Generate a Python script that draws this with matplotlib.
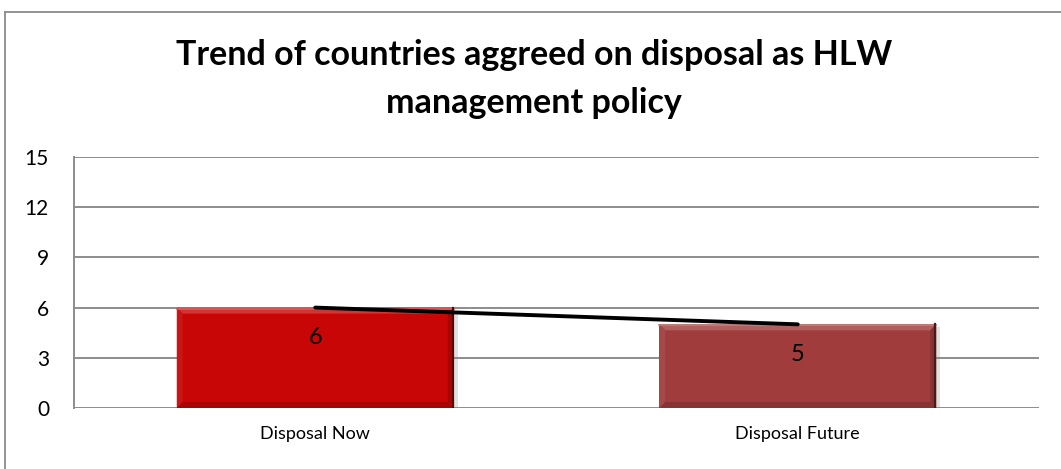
import matplotlib
matplotlib.use("Agg")
import matplotlib.pyplot as plt
from matplotlib.patches import Polygon
from matplotlib.lines import Line2D
import numpy as np

categories = ["Disposal Now", "Disposal Future"]
values = [6, 5]
bar_colors = ["#C80606", "#A03C3C"]
yticks = [0, 3, 6, 9, 12, 15]
title = "Trend of countries aggreed on disposal as HLW\nmanagement policy"

plt.rcParams['font.family'] = ['Lato', 'DejaVu Sans']

W, H = 1061, 469
fig = plt.figure(figsize=(W / 100, H / 100), dpi=100)
fig.patch.set_facecolor("white")

# outer chart border (left and top visible)
fig.add_artist(Line2D([5 / W, 5 / W], [0, 1 - 12 / H], transform=fig.transFigure,
                      color="#8a8a8a", lw=1.3))
fig.add_artist(Line2D([5 / W, 1], [1 - 12 / H, 1 - 12 / H], transform=fig.transFigure,
                      color="#8a8a8a", lw=1.3))

ax = fig.add_axes([74 / W, 1 - 408 / H, (1039 - 74) / W, (408 - 157) / H])
x = np.arange(len(categories))
bw = 0.574
bars = ax.bar(x, values, width=bw, color=bar_colors, zorder=2, linewidth=0)

ax.set_xlim(-0.5, len(categories) - 0.5)
ax.set_ylim(0, 15)
ax.set_yticks(yticks)
ax.set_xticks(x)
ax.set_xticklabels(categories)
ax.tick_params(axis='y', length=0, labelsize=15, colors="black", pad=18)
ax.tick_params(axis='x', length=0, labelsize=13, colors="black", pad=13)
ax.grid(axis='y', color="#8c8c8c", lw=1.4, zorder=0)
for s in ["top", "right", "bottom"]:
    ax.spines[s].set_visible(False)
ax.spines["left"].set_color("#8c8c8c")
ax.spines["left"].set_linewidth(1.4)

# subtle bevel effect on bars
px_x = (ax.get_xlim()[1] - ax.get_xlim()[0]) / (1039 - 74)
px_y = 15 / (408 - 157)
b = 6
for bar, col in zip(bars, bar_colors):
    x0, y0 = bar.get_x(), bar.get_y()
    x1, y1 = x0 + bar.get_width(), y0 + bar.get_height()
    dx, dy = b * px_x, b * px_y
    rgb = np.array(matplotlib.colors.to_rgb(col))
    light = np.clip(rgb + (1 - rgb) * 0.18, 0, 1)
    lighter = np.clip(rgb + (1 - rgb) * 0.06, 0, 1)
    dark = rgb * 0.85
    darker = rgb * 0.45
    # soft shadow on the right
    ax.add_patch(Polygon([(x1, y0 - dy * 0.3), (x1 + 4 * px_x, y0 - dy * 0.3),
                          (x1 + 4 * px_x, y1 - dy * 0.5), (x1, y1 - dy * 0.5)],
                         closed=True, color="#e0e0e0", lw=0, zorder=1.5))
    ax.add_patch(Polygon([(x0, y1), (x1, y1), (x1 - dx, y1 - dy), (x0 + dx, y1 - dy)],
                         closed=True, color=light, lw=0, zorder=3))
    ax.add_patch(Polygon([(x0, y0), (x0, y1), (x0 + dx, y1 - dy), (x0 + dx, y0 + dy)],
                         closed=True, color=lighter, lw=0, zorder=3))
    ax.add_patch(Polygon([(x1, y0), (x1, y1), (x1 - dx, y1 - dy), (x1 - dx, y0 + dy)],
                         closed=True, color=dark, lw=0, zorder=3))
    ax.add_patch(Polygon([(x0, y0), (x1, y0), (x1 - dx, y0 + dy), (x0 + dx, y0 + dy)],
                         closed=True, color=dark, lw=0, zorder=3))
    ax.plot([x0, x1], [y1 - 1.0 * px_y] * 2, color=np.clip(rgb + (1 - rgb) * 0.35, 0, 1),
            lw=1.2, zorder=3.4)
    ax.plot([x1 - 1.0 * px_x] * 2, [y0, y1], color=darker, lw=1.6, zorder=3.5)

# trend line
ax.plot(x, values, color="black", lw=2.8, zorder=4, solid_capstyle='round')

# data labels
for xi, v in zip(x, values):
    ax.text(xi, v - 1.8, str(v), ha='center', va='center', fontsize=17, zorder=5)

fig.text(534 / W, 1 - 79 / H, title, ha='center', va='center', fontsize=24.5,
         fontweight='bold', linespacing=1.6)

fig.savefig("out.png", dpi=100, facecolor="white")
